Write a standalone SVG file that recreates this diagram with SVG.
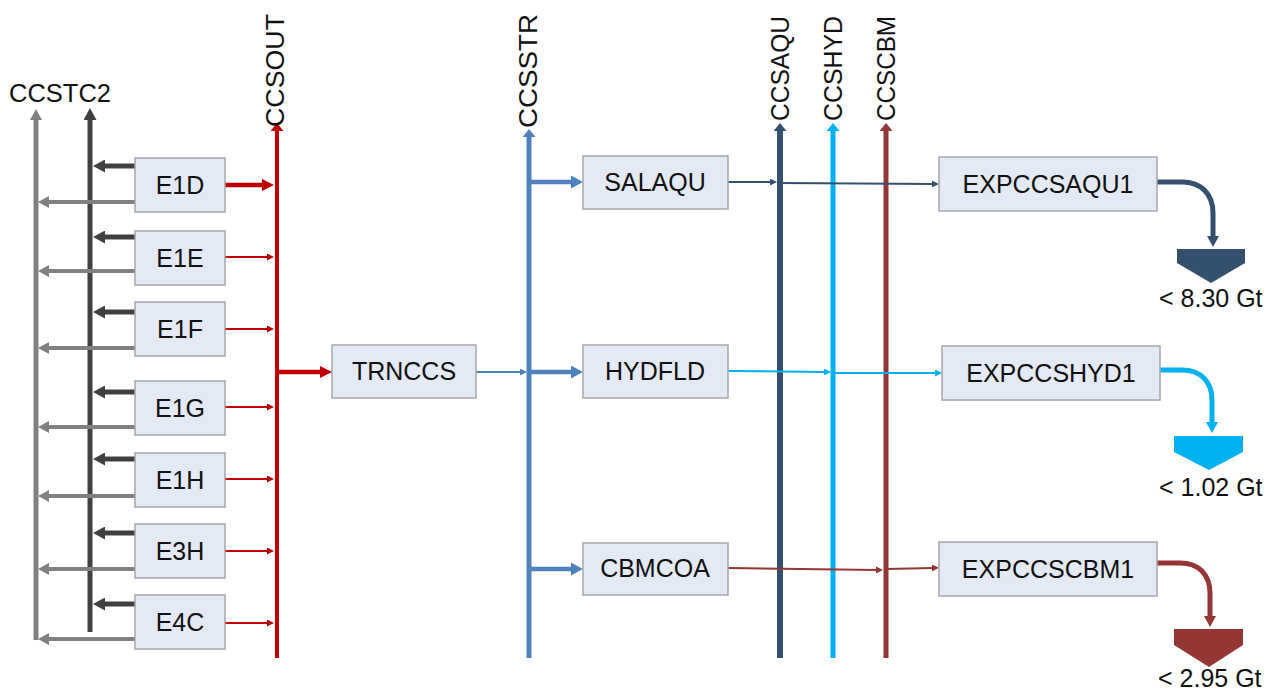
<svg xmlns="http://www.w3.org/2000/svg" width="1275" height="696" viewBox="0 0 1275 696">
<style>
.box{fill:#E4EAF5;stroke:#A6A6A6;stroke-width:1.5}
.t{font-family:"Liberation Sans",Arial,sans-serif;font-size:25px;fill:#111;text-anchor:middle}
.lbl{font-family:"Liberation Sans",Arial,sans-serif;font-size:25px;fill:#111}
.c{fill:none}
</style>
<defs>
<marker id="hRedL" viewBox="0 0 12 12" refX="1" refY="6" markerWidth="12" markerHeight="12" markerUnits="userSpaceOnUse" orient="auto"><path d="M0,0L12,6L0,12z" fill="#C00000"/></marker>
<marker id="hRedS" viewBox="0 0 7 7" refX="1" refY="3.5" markerWidth="7" markerHeight="7" markerUnits="userSpaceOnUse" orient="auto"><path d="M0,0L7,3.5L0,7z" fill="#C00000"/></marker>
<marker id="hRedB" viewBox="0 0 8 13" refX="1" refY="6.5" markerWidth="8" markerHeight="13" markerUnits="userSpaceOnUse" orient="auto"><path d="M0,0L8,6.5L0,13z" fill="#C00000"/></marker>
<marker id="hDg" viewBox="0 0 12 13" refX="1" refY="6.5" markerWidth="12" markerHeight="13" markerUnits="userSpaceOnUse" orient="auto"><path d="M0,0L12,6.5L0,13z" fill="#404040"/></marker>
<marker id="hLg" viewBox="0 0 11 12" refX="1" refY="6" markerWidth="11" markerHeight="12" markerUnits="userSpaceOnUse" orient="auto"><path d="M0,0L11,6L0,12z" fill="#808080"/></marker>
<marker id="hBlueL" viewBox="0 0 12 13" refX="1" refY="6.5" markerWidth="12" markerHeight="13" markerUnits="userSpaceOnUse" orient="auto"><path d="M0,0L12,6.5L0,13z" fill="#4F81BD"/></marker>
<marker id="hBlueS" viewBox="0 0 7 7" refX="1" refY="3.5" markerWidth="7" markerHeight="7" markerUnits="userSpaceOnUse" orient="auto"><path d="M0,0L7,3.5L0,7z" fill="#4F81BD"/></marker>
<marker id="hBlueB" viewBox="0 0 8 13" refX="1" refY="6.5" markerWidth="8" markerHeight="13" markerUnits="userSpaceOnUse" orient="auto"><path d="M0,0L8,6.5L0,13z" fill="#4F81BD"/></marker>
<marker id="hNavyS" viewBox="0 0 7 7" refX="1" refY="3.5" markerWidth="7" markerHeight="7" markerUnits="userSpaceOnUse" orient="auto"><path d="M0,0L7,3.5L0,7z" fill="#34506F"/></marker>
<marker id="hNavyB" viewBox="0 0 8 13" refX="1" refY="6.5" markerWidth="8" markerHeight="13" markerUnits="userSpaceOnUse" orient="auto"><path d="M0,0L8,6.5L0,13z" fill="#34506F"/></marker>
<marker id="hNavyL" viewBox="0 0 11 12" refX="1" refY="6" markerWidth="11" markerHeight="12" markerUnits="userSpaceOnUse" orient="auto"><path d="M0,0L11,6L0,12z" fill="#34506F"/></marker>
<marker id="hSkyS" viewBox="0 0 7 7" refX="1" refY="3.5" markerWidth="7" markerHeight="7" markerUnits="userSpaceOnUse" orient="auto"><path d="M0,0L7,3.5L0,7z" fill="#00B0F0"/></marker>
<marker id="hSkyB" viewBox="0 0 8 13" refX="1" refY="6.5" markerWidth="8" markerHeight="13" markerUnits="userSpaceOnUse" orient="auto"><path d="M0,0L8,6.5L0,13z" fill="#00B0F0"/></marker>
<marker id="hSkyL" viewBox="0 0 11 12" refX="1" refY="6" markerWidth="11" markerHeight="12" markerUnits="userSpaceOnUse" orient="auto"><path d="M0,0L11,6L0,12z" fill="#00B0F0"/></marker>
<marker id="hBrS" viewBox="0 0 7 7" refX="1" refY="3.5" markerWidth="7" markerHeight="7" markerUnits="userSpaceOnUse" orient="auto"><path d="M0,0L7,3.5L0,7z" fill="#943634"/></marker>
<marker id="hBrB" viewBox="0 0 8 13" refX="1" refY="6.5" markerWidth="8" markerHeight="13" markerUnits="userSpaceOnUse" orient="auto"><path d="M0,0L8,6.5L0,13z" fill="#943634"/></marker>
<marker id="hBrL" viewBox="0 0 11 12" refX="1" refY="6" markerWidth="11" markerHeight="12" markerUnits="userSpaceOnUse" orient="auto"><path d="M0,0L11,6L0,12z" fill="#943634"/></marker>
</defs>

<g id="connectors">
  <line x1="36" y1="640" x2="36" y2="119" stroke="#808080" stroke-width="5" marker-end="url(#hLg)"/>
  <line x1="90" y1="632" x2="90" y2="119" stroke="#404040" stroke-width="5" marker-end="url(#hDg)"/>
  <g stroke="#404040" stroke-width="5" marker-end="url(#hDg)">
    <line x1="135" y1="166" x2="104" y2="166"/>
    <line x1="135" y1="237" x2="104" y2="237"/>
    <line x1="135" y1="312" x2="104" y2="312"/>
    <line x1="135" y1="392" x2="104" y2="392"/>
    <line x1="135" y1="459" x2="104" y2="459"/>
    <line x1="135" y1="533" x2="104" y2="533"/>
    <line x1="135" y1="604" x2="104" y2="604"/>
  </g>
  <g stroke="#808080" stroke-width="4" marker-end="url(#hLg)">
    <line x1="135" y1="202" x2="48" y2="202"/>
    <line x1="135" y1="271" x2="48" y2="271"/>
    <line x1="135" y1="348" x2="48" y2="348"/>
    <line x1="135" y1="427" x2="48" y2="427"/>
    <line x1="135" y1="496" x2="48" y2="496"/>
    <line x1="135" y1="569" x2="48" y2="569"/>
    <line x1="135" y1="639" x2="48" y2="639"/>
  </g>
  <line x1="277" y1="658" x2="277" y2="130" stroke="#C00000" stroke-width="4" marker-end="url(#hRedB)"/>
  <line x1="225" y1="185" x2="263" y2="185" stroke="#C00000" stroke-width="4.5" marker-end="url(#hRedL)"/>
  <g stroke="#C00000" stroke-width="2" marker-end="url(#hRedS)">
    <line x1="225" y1="257" x2="268" y2="257"/>
    <line x1="225" y1="329" x2="268" y2="329"/>
    <line x1="225" y1="407" x2="268" y2="407"/>
    <line x1="225" y1="479" x2="268" y2="479"/>
    <line x1="225" y1="551" x2="268" y2="551"/>
    <line x1="225" y1="623" x2="268" y2="623"/>
  </g>
  <line x1="279" y1="372" x2="321" y2="372" stroke="#C00000" stroke-width="4.5" marker-end="url(#hRedL)"/>
  <line x1="529" y1="658" x2="529" y2="136" stroke="#4F81BD" stroke-width="5" marker-end="url(#hBlueB)"/>
  <line x1="476" y1="372" x2="521" y2="372" stroke="#4F81BD" stroke-width="2" marker-end="url(#hBlueS)"/>
  <g stroke="#4F81BD" stroke-width="4.5" marker-end="url(#hBlueL)">
    <line x1="531" y1="182" x2="572" y2="182"/>
    <line x1="531" y1="372" x2="572" y2="372"/>
    <line x1="531" y1="569" x2="572" y2="569"/>
  </g>
  <line x1="780" y1="658" x2="780" y2="130" stroke="#34506F" stroke-width="6" marker-end="url(#hNavyB)"/>
  <line x1="833" y1="658" x2="833" y2="130" stroke="#00B0F0" stroke-width="5" marker-end="url(#hSkyB)"/>
  <line x1="886" y1="658" x2="886" y2="130" stroke="#943634" stroke-width="5" marker-end="url(#hBrB)"/>
  <line x1="728" y1="182" x2="771" y2="182" stroke="#34506F" stroke-width="2" marker-end="url(#hNavyS)"/>
  <line x1="780" y1="183" x2="933" y2="184" stroke="#34506F" stroke-width="2" marker-end="url(#hNavyS)"/>
  <line x1="728" y1="371" x2="825" y2="372" stroke="#00B0F0" stroke-width="2" marker-end="url(#hSkyS)"/>
  <line x1="833" y1="373" x2="936" y2="373" stroke="#00B0F0" stroke-width="2" marker-end="url(#hSkyS)"/>
  <line x1="728" y1="568" x2="877" y2="570" stroke="#943634" stroke-width="2" marker-end="url(#hBrS)"/>
  <line x1="886" y1="569" x2="933" y2="568" stroke="#943634" stroke-width="2" marker-end="url(#hBrS)"/>
  <path class="c" d="M1157,182 L1182,182 C1201,182 1213,194 1213,213 L1213,237" stroke="#34506F" stroke-width="5" marker-end="url(#hNavyL)"/>
  <path class="c" d="M1160,370 L1182,370 C1201,370 1212,382 1212,400 L1212,423" stroke="#00B0F0" stroke-width="5" marker-end="url(#hSkyL)"/>
  <path class="c" d="M1157,563 L1180,563 C1199,563 1210,575 1210,593 L1210,617" stroke="#943634" stroke-width="5" marker-end="url(#hBrL)"/>
</g>

<g id="bus-labels">
  <text class="lbl" x="9" y="102" textLength="102" lengthAdjust="spacingAndGlyphs">CCSTC2</text>
  <text class="lbl" transform="translate(284,127) rotate(-90)" textLength="113" lengthAdjust="spacingAndGlyphs">CCSOUT</text>
  <text class="lbl" transform="translate(537,128) rotate(-90)" textLength="114" lengthAdjust="spacingAndGlyphs">CCSSTR</text>
  <text class="lbl" transform="translate(789,121) rotate(-90)" textLength="105" lengthAdjust="spacingAndGlyphs">CCSAQU</text>
  <text class="lbl" transform="translate(842,121) rotate(-90)" textLength="105" lengthAdjust="spacingAndGlyphs">CCSHYD</text>
  <text class="lbl" transform="translate(895,121) rotate(-90)" textLength="105" lengthAdjust="spacingAndGlyphs">CCSCBM</text>
</g>

<g id="E1D"><rect class="box" x="135" y="158" width="90" height="54"/><text class="t" x="180" y="194">E1D</text></g>
<g id="E1E"><rect class="box" x="135" y="231" width="90" height="54"/><text class="t" x="180" y="267">E1E</text></g>
<g id="E1F"><rect class="box" x="135" y="302" width="90" height="54"/><text class="t" x="180" y="338">E1F</text></g>
<g id="E1G"><rect class="box" x="135" y="381" width="90" height="54"/><text class="t" x="180" y="417">E1G</text></g>
<g id="E1H"><rect class="box" x="135" y="453" width="90" height="54"/><text class="t" x="180" y="489">E1H</text></g>
<g id="E3H"><rect class="box" x="135" y="524" width="90" height="54"/><text class="t" x="180" y="560">E3H</text></g>
<g id="E4C"><rect class="box" x="135" y="595" width="90" height="54"/><text class="t" x="180" y="631">E4C</text></g>

<g id="TRNCCS"><rect class="box" x="332" y="345" width="144" height="53"/><text class="t" x="404" y="380">TRNCCS</text></g>
<g id="SALAQU"><rect class="box" x="583" y="156" width="145" height="53"/><text class="t" x="655" y="191">SALAQU</text></g>
<g id="HYDFLD"><rect class="box" x="583" y="345" width="145" height="53"/><text class="t" x="655" y="380">HYDFLD</text></g>
<g id="CBMCOA"><rect class="box" x="583" y="543" width="145" height="52"/><text class="t" x="655" y="577">CBMCOA</text></g>

<g id="EXPCCSAQU1"><rect class="box" x="939" y="157" width="218" height="54"/><text class="t" x="1048" y="193">EXPCCSAQU1</text></g>
<g id="EXPCCSHYD1"><rect class="box" x="942" y="346" width="218" height="54"/><text class="t" x="1051" y="382">EXPCCSHYD1</text></g>
<g id="EXPCCSCBM1"><rect class="box" x="939" y="542" width="218" height="54"/><text class="t" x="1048" y="578">EXPCCSCBM1</text></g>

<g id="sink-AQU"><path d="M1177,249 H1245 V263 L1211,283 L1177,263 Z" fill="#34506F"/><text class="lbl" x="1159" y="307">&lt; 8.30 Gt</text></g>
<g id="sink-HYD"><path d="M1174,436 H1243 V452 L1209,470 L1174,452 Z" fill="#00B0F0"/><text class="lbl" x="1159" y="496">&lt; 1.02 Gt</text></g>
<g id="sink-CBM"><path d="M1174,629 H1243 V645 L1209,667 L1174,645 Z" fill="#943634"/><text class="lbl" x="1158" y="687">&lt; 2.95 Gt</text></g>
</svg>
